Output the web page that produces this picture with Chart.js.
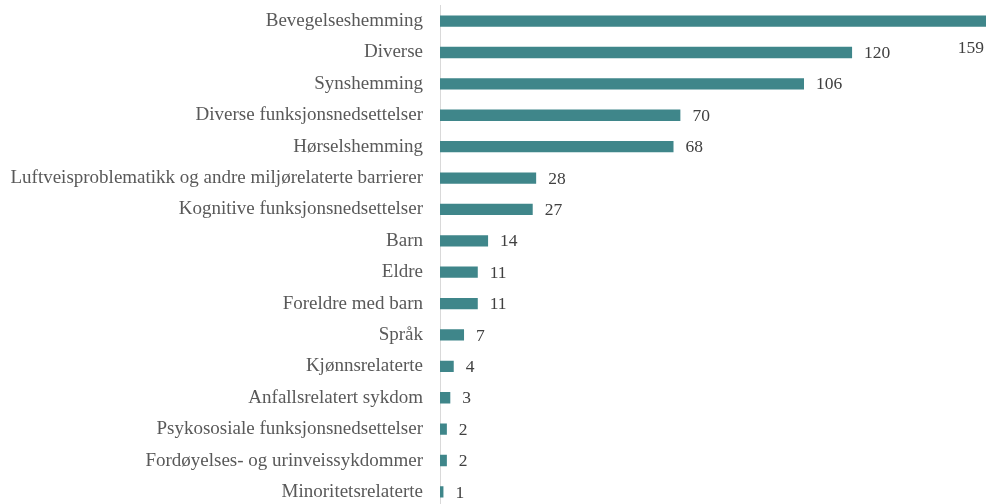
<!DOCTYPE html>
<html>
<head>
<meta charset="utf-8">
<script src="https://cdn.jsdelivr.net/npm/chart.js@4"></script>
<style>
  html, body { margin: 0; padding: 0; background: #fff; overflow: hidden; }
  canvas { display: block; margin-top: -23px; }
</style>
</head>
<body>
<canvas id="chart" width="986" height="559"></canvas>
<script>
const categories = [
  'Bevegelseshemming', 'Diverse', 'Synshemming', 'Diverse funksjonsnedsettelser',
  'Hørselshemming', 'Luftveisproblematikk og andre miljørelaterte barrierer',
  'Kognitive funksjonsnedsettelser', 'Barn', 'Eldre', 'Foreldre med barn',
  'Språk', 'Kjønnsrelaterte', 'Anfallsrelatert sykdom',
  'Psykososiale funksjonsnedsettelser', 'Fordøyelses- og urinveissykdommer',
  'Minoritetsrelaterte'
];
const counts = [159, 120, 106, 70, 68, 28, 27, 14, 11, 11, 7, 4, 3, 2, 2, 1];

const valueLabels = {
  id: 'valueLabels',
  afterDatasetsDraw(chart) {
    const ctx = chart.ctx;
    const meta = chart.getDatasetMeta(0);
    ctx.save();
    ctx.font = '17.5px "Liberation Serif", serif';
    ctx.fillStyle = '#404040';
    ctx.textBaseline = 'middle';
    meta.data.forEach((bar, i) => {
      const txt = String(counts[i]);
      const w = ctx.measureText(txt).width;
      if (bar.x + 12 + w > chart.width) {
        ctx.textAlign = 'right';
        ctx.fillText(txt, chart.width - 2, bar.y + 27);
      } else {
        ctx.textAlign = 'left';
        ctx.fillText(txt, bar.x + 12, bar.y + 1);
      }
    });
    ctx.restore();
  }
};

new Chart(document.getElementById('chart'), {
  type: 'bar',
  data: {
    labels: categories,
    datasets: [{
      data: counts,
      backgroundColor: '#3f868a',
      borderWidth: 0,
      barPercentage: 0.72,
      categoryPercentage: 0.5
    }]
  },
  options: {
    indexAxis: 'y',
    responsive: false,
    animation: false,
    layout: { padding: 0 },
    plugins: {
      legend: { display: false },
      tooltip: { enabled: false }
    },
    scales: {
      x: {
        display: false,
        min: 0,
        max: 159
      },
      y: {
        afterFit(scale) { scale.width = 440; },
        border: { display: true, color: '#d9d9d9', width: 1 },
        grid: { display: false, drawTicks: false },
        ticks: {
          padding: 17,
          color: '#595959',
          font: { family: '"Liberation Serif", serif', size: 19 }
        }
      }
    }
  },
  plugins: [valueLabels]
});
</script>
</body>
</html>
